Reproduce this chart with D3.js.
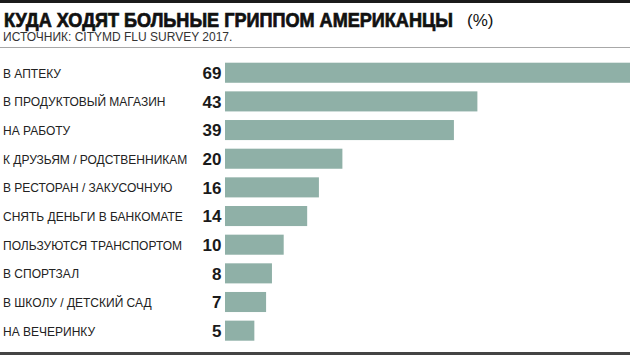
<!DOCTYPE html>
<html><head><meta charset="utf-8">
<script src="https://cdn.jsdelivr.net/npm/d3@7"></script>
<style>body{margin:0;background:#fff}svg{display:block}</style>
</head><body>
<script>
const categories = ["В АПТЕКУ","В ПРОДУКТОВЫЙ МАГАЗИН","НА РАБОТУ","К ДРУЗЬЯМ / РОДСТВЕННИКАМ","В РЕСТОРАН / ЗАКУСОЧНУЮ","СНЯТЬ ДЕНЬГИ В БАНКОМАТЕ","ПОЛЬЗУЮТСЯ ТРАНСПОРТОМ","В СПОРТЗАЛ","В ШКОЛУ / ДЕТСКИЙ САД","НА ВЕЧЕРИНКУ"];
const values = [69,43,39,20,16,14,10,8,7,5];
const title = "КУДА ХОДЯТ БОЛЬНЫЕ ГРИППОМ АМЕРИКАНЦЫ";
const titleUnit = "(%)";
const subtitle = "ИСТОЧНИК: CITYMD FLU SURVEY 2017.";

const W = 630, H = 355;
const svg = d3.select("body").append("svg").attr("width", W).attr("height", H);
const font = "'Liberation Sans', Arial, sans-serif";

svg.append("rect").attr("x",0).attr("y",0).attr("width",W).attr("height",3).attr("fill","#1b1b1b");
svg.append("rect").attr("x",0).attr("y",352).attr("width",W).attr("height",3).attr("fill","#444");
svg.append("line").attr("x1",0).attr("x2",W).attr("y1",47.5).attr("y2",47.5).attr("stroke","#a8a8a8").attr("stroke-width",1);

const tg = svg.append("g").attr("transform","translate(4,26.5)");
const tt = tg.append("text").attr("x",0).attr("y",0).attr("font-family",font).attr("font-weight","bold")
  .attr("font-size",19.5).attr("fill","#111").attr("stroke","#111").attr("stroke-width",0.7).text(title);
const natural = tt.node().getComputedTextLength();
tt.attr("transform", `scale(${449/natural},1)`);
svg.append("text").attr("x",467).attr("y",26).attr("font-family",font)
  .attr("font-size",17).attr("fill","#111").text(titleUnit);
svg.append("text").attr("x",3).attr("y",40.5).attr("font-family",font)
  .attr("font-size",12).attr("fill","#333").text(subtitle);

const x = d3.scaleLinear().domain([0, 69]).range([225, 630]);
const y = d3.scaleBand().domain(categories).range([62.7, 340.7]).paddingInner(0.3).paddingOuter(0);

const data = categories.map((c,i)=>({c, v: values[i]}));
const g = svg.append("g");
g.selectAll("rect.bar").data(data).join("rect").attr("class","bar")
  .attr("x", x(0)).attr("y", d=>y(d.c)).attr("width", d=>x(d.v)-x(0)).attr("height", y.bandwidth())
  .attr("fill","#8fb0a7");
g.selectAll("text.lab").data(data).join("text").attr("class","lab")
  .attr("x",3).attr("y", d=>y(d.c)+y.bandwidth()/2+5)
  .attr("font-family",font).attr("font-size",12).attr("fill","#222").text(d=>d.c);
g.selectAll("text.val").data(data).join("text").attr("class","val")
  .attr("x",221.5).attr("y", d=>y(d.c)+y.bandwidth()/2+6.2).attr("text-anchor","end")
  .attr("font-family",font).attr("font-weight","bold").attr("font-size",17).attr("fill","#1a1a1a").text(d=>d.v);
</script>
</body></html>
